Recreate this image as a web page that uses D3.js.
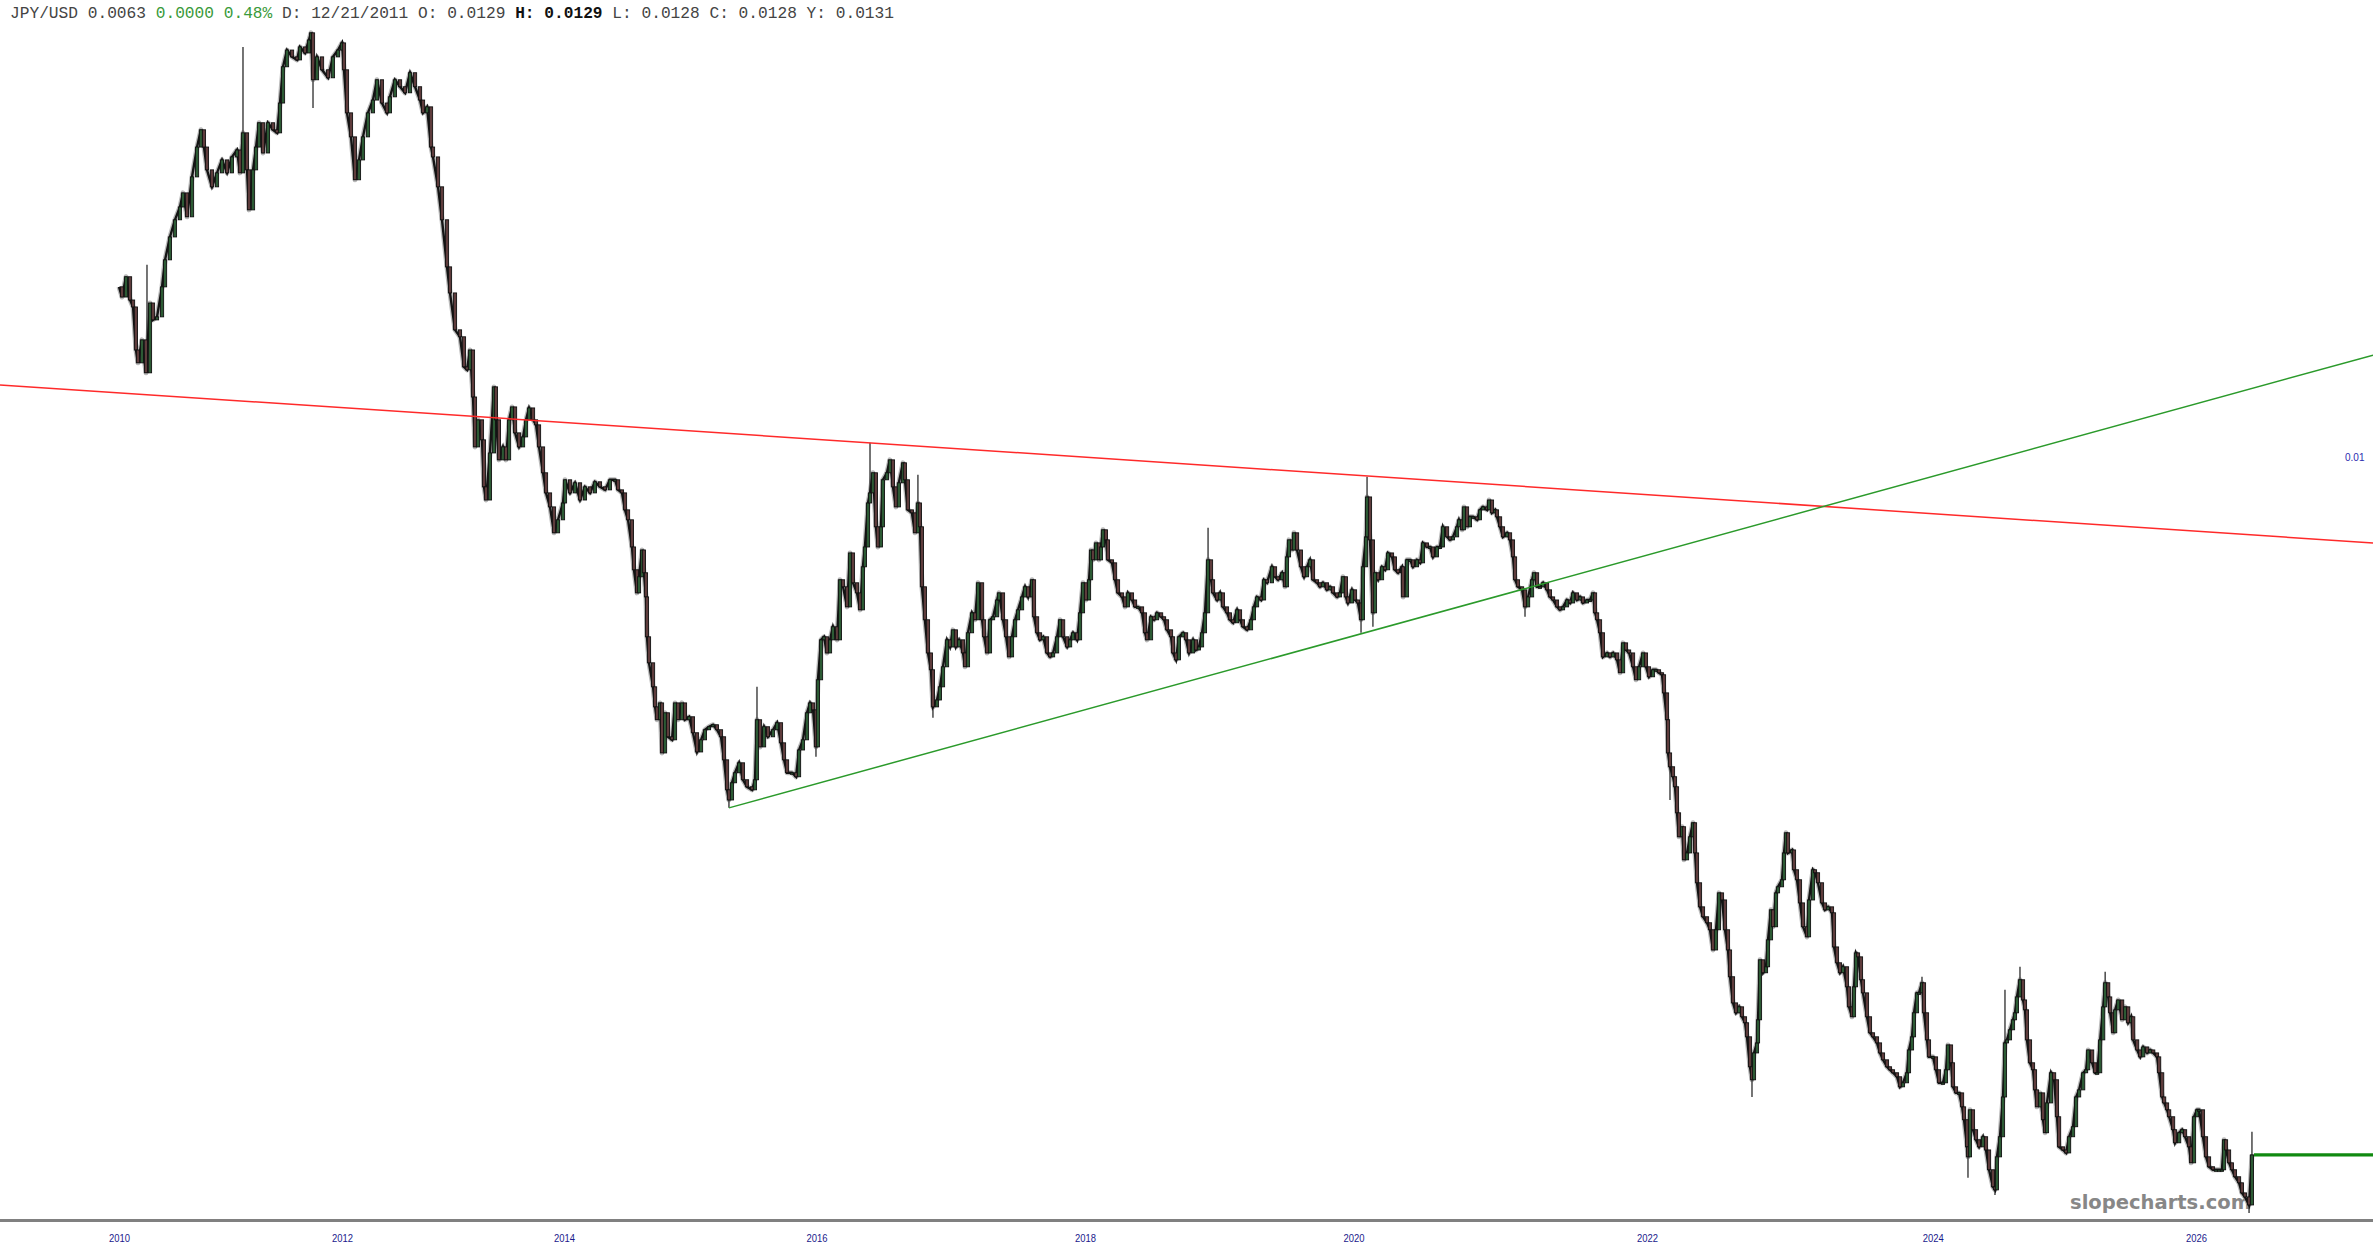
<!DOCTYPE html>
<html><head><meta charset="utf-8">
<script src="https://cdn.jsdelivr.net/npm/d3@7"></script>
<style>html,body{margin:0;padding:0;background:#fff;overflow:hidden}</style>
</head><body>
<svg id="chart" width="2373" height="1260"></svg>
<script>
// ---------- DATA ----------
// dates as decimal years, closes in JPY/USD
const dates = [
2010.000,2010.027,2010.063,2010.099,2010.126,2010.152,2010.170,2010.206,2010.242,2010.278,
2010.305,2010.341,2010.386,2010.413,2010.457,2010.502,2010.547,2010.574,2010.610,2010.655,
2010.700,2010.735,2010.762,2010.789,2010.834,2010.879,2010.924,2010.969,2011.013,2011.058,
2011.085,2011.112,2011.148,2011.166,2011.202,2011.229,2011.256,2011.292,2011.336,2011.381,
2011.417,2011.444,2011.471,2011.507,2011.552,2011.596,2011.623,2011.668,2011.704,2011.722,
2011.740,2011.776,2011.821,2011.875,2011.919,2011.964,2012.000,2012.018,2012.045,2012.081,
2012.117,2012.153,2012.189,2012.234,2012.279,2012.315,2012.360,2012.405,2012.432,2012.477,
2012.523,2012.568,2012.613,2012.658,2012.703,2012.730,2012.766,2012.802,2012.820,2012.865,
2012.901,2012.946,2012.973,2013.018,2013.063,2013.099,2013.126,2013.153,2013.180,2013.198,
2013.225,2013.261,2013.279,2013.297,2013.333,2013.369,2013.387,2013.414,2013.450,2013.477,
2013.505,2013.532,2013.559,2013.595,2013.631,2013.658,2013.685,2013.721,2013.748,2013.775,
2013.811,2013.838,2013.874,2013.910,2013.946,2013.991,2014.008,2014.048,2014.087,2014.127,
2014.166,2014.206,2014.245,2014.285,2014.325,2014.364,2014.404,2014.428,2014.459,2014.483,
2014.507,2014.538,2014.554,2014.578,2014.594,2014.618,2014.633,2014.649,2014.657,2014.673,
2014.705,2014.721,2014.736,2014.760,2014.776,2014.800,2014.823,2014.855,2014.879,2014.903,
2014.934,2014.958,2014.990,2015.021,2015.053,2015.085,2015.116,2015.148,2015.180,2015.211,
2015.243,2015.267,2015.291,2015.306,2015.330,2015.354,2015.386,2015.417,2015.449,2015.489,
2015.512,2015.528,2015.552,2015.584,2015.615,2015.655,2015.687,2015.718,2015.742,2015.766,
2015.805,2015.837,2015.861,2015.892,2015.924,2015.948,2015.972,2015.995,2016.010,2016.033,
2016.055,2016.077,2016.100,2016.122,2016.152,2016.174,2016.197,2016.227,2016.249,2016.271,
2016.301,2016.324,2016.345,2016.360,2016.383,2016.398,2016.420,2016.442,2016.457,2016.479,
2016.494,2016.524,2016.546,2016.569,2016.591,2016.613,2016.644,2016.658,2016.680,2016.710,
2016.733,2016.755,2016.770,2016.785,2016.807,2016.830,2016.852,2016.867,2016.897,2016.919,
2016.942,2016.972,2016.994,2017.016,2017.038,2017.061,2017.091,2017.106,2017.128,2017.158,
2017.180,2017.203,2017.233,2017.248,2017.270,2017.292,2017.315,2017.345,2017.359,2017.389,
2017.412,2017.434,2017.456,2017.479,2017.501,2017.531,2017.553,2017.576,2017.605,2017.620,
2017.643,2017.665,2017.688,2017.717,2017.740,2017.762,2017.792,2017.814,2017.837,2017.867,
2017.889,2017.911,2017.941,2017.963,2017.985,2018.007,2018.030,2018.045,2018.060,2018.082,
2018.104,2018.119,2018.134,2018.156,2018.171,2018.201,2018.224,2018.246,2018.276,2018.298,
2018.320,2018.350,2018.373,2018.395,2018.425,2018.447,2018.462,2018.492,2018.514,2018.537,
2018.567,2018.589,2018.611,2018.641,2018.656,2018.678,2018.700,2018.730,2018.753,2018.775,
2018.805,2018.827,2018.849,2018.872,2018.894,2018.917,2018.939,2018.954,2018.984,2019.006,
2019.028,2019.058,2019.080,2019.103,2019.133,2019.155,2019.177,2019.207,2019.237,2019.259,
2019.282,2019.311,2019.334,2019.356,2019.393,2019.416,2019.438,2019.468,2019.490,2019.505,
2019.520,2019.543,2019.557,2019.580,2019.609,2019.632,2019.654,2019.676,2019.699,2019.729,
2019.751,2019.773,2019.803,2019.825,2019.848,2019.878,2019.900,2019.922,2019.944,2019.959,
2019.989,2020.011,2020.031,2020.052,2020.065,2020.086,2020.093,2020.113,2020.133,2020.147,
2020.168,2020.195,2020.215,2020.236,2020.263,2020.283,2020.304,2020.331,2020.338,2020.365,
2020.386,2020.406,2020.433,2020.454,2020.474,2020.501,2020.522,2020.542,2020.569,2020.590,
2020.610,2020.638,2020.658,2020.678,2020.706,2020.719,2020.740,2020.753,2020.774,2020.794,
2020.815,2020.842,2020.862,2020.883,2020.910,2020.924,2020.944,2020.965,2020.978,2020.999,
2021.019,2021.046,2021.067,2021.087,2021.101,2021.121,2021.149,2021.169,2021.190,2021.217,
2021.230,2021.251,2021.271,2021.292,2021.319,2021.339,2021.360,2021.387,2021.407,2021.428,
2021.455,2021.475,2021.496,2021.523,2021.543,2021.564,2021.591,2021.612,2021.632,2021.646,
2021.660,2021.680,2021.700,2021.728,2021.748,2021.769,2021.796,2021.816,2021.837,2021.857,
2021.878,2021.905,2021.925,2021.946,2021.973,2021.993,2022.014,2022.042,2022.063,2022.084,
2022.105,2022.119,2022.140,2022.147,2022.161,2022.182,2022.196,2022.210,2022.224,2022.245,
2022.259,2022.280,2022.301,2022.322,2022.336,2022.350,2022.371,2022.392,2022.420,2022.441,
2022.462,2022.483,2022.504,2022.525,2022.546,2022.567,2022.581,2022.602,2022.623,2022.644,
2022.665,2022.686,2022.700,2022.721,2022.735,2022.749,2022.770,2022.777,2022.791,2022.812,
2022.833,2022.847,2022.868,2022.882,2022.903,2022.917,2022.945,2022.959,2022.973,2022.987,
2023.015,2023.029,2023.050,2023.071,2023.092,2023.120,2023.134,2023.162,2023.176,2023.197,
2023.225,2023.246,2023.267,2023.295,2023.309,2023.330,2023.351,2023.372,2023.400,2023.414,
2023.435,2023.449,2023.463,2023.477,2023.498,2023.512,2023.540,2023.561,2023.582,2023.610,
2023.631,2023.652,2023.680,2023.701,2023.722,2023.750,2023.771,2023.792,2023.820,2023.834,
2023.855,2023.869,2023.890,2023.904,2023.925,2023.939,2023.960,2023.974,2024.002,2024.025,
2024.048,2024.078,2024.101,2024.116,2024.139,2024.154,2024.177,2024.200,2024.223,2024.238,
2024.261,2024.268,2024.283,2024.306,2024.329,2024.352,2024.382,2024.405,2024.428,2024.458,
2024.473,2024.488,2024.511,2024.534,2024.549,2024.564,2024.587,2024.610,2024.625,2024.640,
2024.663,2024.686,2024.701,2024.716,2024.739,2024.762,2024.777,2024.792,2024.815,2024.838,
2024.853,2024.868,2024.899,2024.922,2024.944,2024.960,2024.990,2025.013,2025.036,2025.066,
2025.089,2025.112,2025.143,2025.165,2025.181,2025.211,2025.234,2025.249,2025.272,2025.295,
2025.310,2025.333,2025.348,2025.371,2025.386,2025.409,2025.439,2025.462,2025.485,2025.507,
2025.523,2025.553,2025.576,2025.599,2025.629,2025.652,2025.675,2025.704,2025.720,2025.743,
2025.758,2025.780,2025.796,2025.826,2025.841,2025.872,2025.894,2025.917,2025.947,2025.963,
2025.985,2026.008,2026.023,2026.053,2026.076,2026.099,2026.129,2026.152,2026.175,2026.197,
2026.213,2026.228,2026.251,2026.273,2026.296,2026.327,2026.349,2026.372,2026.403,2026.425
];
const closes = [
0.011192,0.011117,0.011267,0.011095,0.011044,0.010734,0.010643,0.010806,0.010573,0.011073,
0.010950,0.010972,0.011192,0.011394,0.011568,0.011700,0.011800,0.011910,0.011723,0.012037,
0.012277,0.012418,0.012277,0.012093,0.011958,0.012069,0.012173,0.012069,0.012197,0.012253,
0.012069,0.012393,0.012093,0.011777,0.012093,0.012277,0.012476,0.012229,0.012476,0.012418,
0.012393,0.012640,0.012947,0.013091,0.013032,0.013006,0.013118,0.013066,0.013179,0.013241,
0.012836,0.013032,0.012921,0.012853,0.013032,0.013091,0.013153,0.012921,0.012558,0.012360,
0.012014,0.012173,0.012360,0.012558,0.012665,0.012836,0.012640,0.012558,0.012692,0.012836,
0.012777,0.012726,0.012896,0.012777,0.012665,0.012558,0.012608,0.012277,0.012197,0.011958,
0.011700,0.011341,0.011147,0.010878,0.010828,0.010615,0.010594,0.010734,0.010405,0.010067,
0.010249,0.010114,0.0098044,0.0097194,0.010027,0.010475,0.010249,0.0099810,0.010067,0.0099810,
0.010249,0.010337,0.010161,0.010067,0.010134,0.010249,0.010330,0.010249,0.010215,0.010067,
0.0098960,0.0097652,0.0096751,0.0095105,0.0095928,0.0097004,0.0098502,0.0097652,0.0098306,0.0097194,
0.0098044,0.0097652,0.0098371,0.0098044,0.0097848,0.0098502,0.0098502,0.0097848,0.0097652,0.0096561,
0.0095928,0.0094219,0.0092807,0.0091399,0.0092379,0.0094031,0.0092623,0.0091155,0.0088780,0.0087264,
0.0085889,0.0084757,0.0084037,0.0084979,0.0082212,0.0084425,0.0083095,0.0082929,0.0084979,0.0084037,
0.0084979,0.0084037,0.0084203,0.0083317,0.0082266,0.0082929,0.0083483,0.0083649,0.0083760,0.0083483,
0.0083095,0.0081837,0.0080229,0.0079692,0.0080604,0.0081140,0.0081676,0.0080765,0.0080390,0.0080229,
0.0080765,0.0084037,0.0082541,0.0083649,0.0083095,0.0083483,0.0083871,0.0082763,0.0081837,0.0081140,
0.0081140,0.0080926,0.0082373,0.0082929,0.0084425,0.0084979,0.0084591,0.0082541,0.0086290,0.0088602,
0.0088780,0.0087837,0.0088602,0.0089372,0.0088602,0.0092195,0.0091767,0.0090556,0.0093847,0.0092011,
0.0091399,0.0090378,0.0092991,0.0094219,0.0097004,0.0097652,0.0098960,0.0095485,0.0094219,0.0095485,
0.0098502,0.0098960,0.0099810,0.0098044,0.0096751,0.0098306,0.0099614,0.0098502,0.0096561,0.0096371,
0.0095105,0.0097004,0.0095485,0.0091767,0.0089786,0.0087837,0.0086863,0.0084757,0.0085145,0.0085889,
0.0087035,0.0088602,0.0088188,0.0089190,0.0088188,0.0088602,0.0087837,0.0087035,0.0089016,0.0090200,
0.0089786,0.0092011,0.0089786,0.0088780,0.0087837,0.0089786,0.0089964,0.0090970,0.0091399,0.0089786,
0.0088780,0.0087608,0.0088780,0.0089786,0.0090378,0.0091155,0.0091767,0.0091155,0.0092195,0.0089964,
0.0089016,0.0088602,0.0088780,0.0087837,0.0087608,0.0087837,0.0088780,0.0089786,0.0088780,0.0088188,
0.0088602,0.0089016,0.0088602,0.0090200,0.0092011,0.0090970,0.0092195,0.0094031,0.0093419,0.0094472,
0.0093419,0.0094219,0.0095295,0.0094662,0.0093419,0.0093235,0.0092195,0.0091399,0.0091155,0.0090556,
0.0091399,0.0090970,0.0090556,0.0090556,0.0090200,0.0089016,0.0088602,0.0089964,0.0089786,0.0090200,
0.0089964,0.0089786,0.0089190,0.0088780,0.0087837,0.0087436,0.0088780,0.0089016,0.0088602,0.0087837,
0.0088602,0.0088009,0.0088188,0.0089016,0.0090200,0.0093419,0.0092195,0.0091399,0.0090970,0.0091399,
0.0090556,0.0090200,0.0089786,0.0089608,0.0090378,0.0089786,0.0089372,0.0089190,0.0089786,0.0090556,
0.0091155,0.0090970,0.0092195,0.0092011,0.0092991,0.0092379,0.0092195,0.0092623,0.0091767,0.0093603,
0.0094662,0.0094031,0.0095105,0.0094031,0.0092991,0.0092379,0.0092991,0.0093419,0.0092195,0.0092011,
0.0091767,0.0092011,0.0091583,0.0091767,0.0091399,0.0091155,0.0091399,0.0092379,0.0091155,0.0090792,
0.0091583,0.0090970,0.0090792,0.0089786,0.0092991,0.0094852,0.0097390,0.0094662,0.0090200,0.0092623,
0.0092195,0.0092991,0.0092807,0.0093847,0.0093603,0.0092807,0.0092623,0.0092991,0.0091155,0.0093419,
0.0093419,0.0092991,0.0093419,0.0093235,0.0094472,0.0094219,0.0094219,0.0093603,0.0094219,0.0094219,
0.0095485,0.0094852,0.0094662,0.0094852,0.0095485,0.0095928,0.0095295,0.0096751,0.0095485,0.0096118,
0.0096118,0.0095928,0.0096561,0.0096751,0.0096561,0.0097194,0.0096371,0.0096561,0.0096118,0.0095485,
0.0094852,0.0095105,0.0094662,0.0093603,0.0092195,0.0091767,0.0091583,0.0090556,0.0091155,0.0092195,
0.0092623,0.0091767,0.0091767,0.0092011,0.0091583,0.0091155,0.0090970,0.0090556,0.0090378,0.0090556,
0.0090970,0.0090792,0.0091399,0.0090970,0.0091155,0.0090792,0.0090970,0.0090970,0.0091399,0.0090200,
0.0089786,0.0089016,0.0087608,0.0087837,0.0087608,0.0087837,0.0087436,0.0086691,0.0088424,0.0088009,
0.0087837,0.0087035,0.0086290,0.0087035,0.0087837,0.0087035,0.0086462,0.0086863,0.0086863,0.0086691,
0.0086577,0.0085545,0.0084037,0.0082212,0.0081462,0.0080926,0.0080390,0.0079017,0.0077772,0.0078291,
0.0076596,0.0076947,0.0077772,0.0078498,0.0076947,0.0075441,0.0074249,0.0073763,0.0073471,0.0073131,
0.0072161,0.0073131,0.0074939,0.0074589,0.0073131,0.0072161,0.0070892,0.0069676,0.0069221,0.0069494,
0.0069039,0.0068765,0.0068129,0.0066791,0.0066219,0.0067407,0.0067856,0.0068902,0.0071691,0.0071080,
0.0071362,0.0072645,0.0074103,0.0073277,0.0074939,0.0075241,0.0075592,0.0076947,0.0077979,0.0076947,
0.0077098,0.0076094,0.0075592,0.0074443,0.0073277,0.0072791,0.0074589,0.0076094,0.0075943,0.0075441,
0.0074443,0.0074103,0.0074249,0.0073957,0.0072305,0.0071550,0.0071080,0.0071362,0.0070422,0.0069494,
0.0069039,0.0070422,0.0072020,0.0071832,0.0070751,0.0070140,0.0069039,0.0068311,0.0068129,0.0067856,
0.0067407,0.0067099,0.0066791,0.0066659,0.0066527,0.0066351,0.0065911,0.0066087,0.0066527,0.0067539,
0.0068129,0.0069221,0.0070140,0.0070140,0.0070610,0.0069221,0.0067992,0.0067231,0.0067231,0.0066659,
0.0066087,0.0066087,0.0066659,0.0067765,0.0066967,0.0065911,0.0065647,0.0065647,0.0065043,0.0064491,
0.0063344,0.0062926,0.0064916,0.0064066,0.0063641,0.0063344,0.0063769,0.0063214,0.0062390,0.0061690,
0.0061566,0.0062926,0.0063769,0.0065471,0.0067856,0.0067992,0.0068447,0.0068902,0.0069221,0.0069952,
0.0070751,0.0069812,0.0069357,0.0067992,0.0066967,0.0066659,0.0065779,0.0065043,0.0065647,0.0064491,
0.0063939,0.0065213,0.0066527,0.0066219,0.0064618,0.0063344,0.0063214,0.0063090,0.0063769,0.0064194,
0.0065471,0.0065779,0.0066527,0.0066659,0.0067539,0.0066967,0.0066527,0.0066527,0.0067992,0.0069494,
0.0070610,0.0069952,0.0069221,0.0068311,0.0069357,0.0069812,0.0068902,0.0069494,0.0068765,0.0069039,
0.0067992,0.0067539,0.0067231,0.0067674,0.0067407,0.0067539,0.0067407,0.0067231,0.0066527,0.0065471,
0.0065213,0.0064916,0.0064618,0.0064066,0.0063514,0.0063939,0.0064066,0.0063769,0.0063344,0.0062678,
0.0064618,0.0064916,0.0064916,0.0063769,0.0062926,0.0062514,0.0062390,0.0062390,0.0062390,0.0062390,
0.0063641,0.0063214,0.0062678,0.0062390,0.0062102,0.0061854,0.0061442,0.0061278,0.0060955,0.0063008
];
// single-day extreme wicks (date, high or low)
const spikeDates  = [2010.251,2011.112,2011.740,2015.306,2015.528,2015.995,2016.398,2016.755,2016.867,2018.917,2020.052,2020.093,2020.133,2021.169,2022.161,2022.735,2023.925,2024.268,2024.473,2024.549,2024.663,2025.310,2026.403,2026.425];
const spikeLevels = [0.011356,0.013118,0.012599,0.0079277,0.0085889,0.0081998,0.010094,0.0098829,0.0084148,0.0095422,0.0089016,0.0098698,0.0089372,0.0089964,0.0079692,0.0065471,0.0070892,0.0062060,0.0061360,0.0070281,0.0071362,0.0071127,0.0060634,0.0063981];
// trendline anchors
const redLineDates = [2016.398, 2020.093];
const redLineValues = [0.010094, 0.0098751];
const greenLineDates = [2015.306, 2020.052];
const greenLineValues = [0.0079277, 0.0088957];
// axis labels
const tickYears = [2010,2012,2014,2016,2018,2020,2022,2024,2026];
const priceTicks = [0.01];
const header = {symbol:"JPY/USD", last:"0.0063", chg:"0.0000", pct:"0.48%", date:"12/21/2011", o:"0.0129", h:"0.0129", l:"0.0128", c:"0.0128", yv:"0.0131"};

// ---------- LAYOUT ----------
const W = 2373, H = 1260, axisY = 1220;
// the time axis is bar-indexed: each two-year span gets its own width
const yearStops  = [2010,2012,2014,2016,2018,2020,2022,2024,2026,2028];
const yearPixels = [119,342,564,816.6,1085,1353.4,1647,1932.7,2196,2459.3];

const svg = d3.select("#chart");
const x = d3.scaleLinear().domain(yearStops).range(yearPixels);
const y = d3.scaleLog().domain([0.013532, 0.006035]).range([0, axisY]);

// watermark (under the price)
svg.append("text")
  .attr("x", 2070).attr("y", 1209)
  .attr("font-family", "DejaVu Sans, Verdana, sans-serif")
  .attr("font-weight", "bold").attr("font-size", 19)
  .attr("fill", "#878787")
  .attr("textLength", 181).attr("lengthAdjust", "spacingAndGlyphs")
  .text("slopecharts.com");

const series = dates.map((d, i) => ({t: d, v: closes[i]}));
const lineGen = d3.line().x(d => x(d.t)).y(d => y(d.v));

// grey halo (wick fringe) under the price
svg.append("path")
  .datum(series)
  .attr("fill", "none").attr("stroke", "#8c8c8c").attr("stroke-opacity", 0.6)
  .attr("stroke-width", 5).attr("stroke-linejoin", "round")
  .attr("d", lineGen);

// wicks
const bis = d3.bisector(d => d).center;
svg.append("g").selectAll("line")
  .data(spikeDates.map((t, i) => ({t, lv: spikeLevels[i], c: closes[bis(dates, t)]})))
  .join("line")
  .attr("x1", d => x(d.t)).attr("x2", d => x(d.t))
  .attr("y1", d => y(d.c)).attr("y2", d => y(d.lv))
  .attr("stroke", "#3a3a3a").attr("stroke-width", 1.4);

// price line
svg.append("path")
  .datum(series)
  .attr("fill", "none").attr("stroke", "#141414").attr("stroke-width", 2.4)
  .attr("stroke-linejoin", "miter")
  .attr("d", lineGen);

// candle bodies between consecutive closes
const bodies = series.slice(1).map((d, i) => ({t: d.t, o: series[i].v, c: d.v}));
svg.append("g").selectAll("rect")
  .data(bodies)
  .join("rect")
  .attr("x", d => x(d.t) - 1.6)
  .attr("width", 3.2)
  .attr("y", d => y(Math.max(d.o, d.c)))
  .attr("height", d => Math.max(1.5, Math.abs(y(d.o) - y(d.c))))
  .attr("fill", d => d.c >= d.o ? "#2c5a34" : "#5e3c3c")
  .attr("stroke", "#111").attr("stroke-width", 0.9);

// trendlines (anchored on data points, extended across the chart)
function extend(ds, vs, fromLeft) {
  const x1 = x(ds[0]), y1 = y(vs[0]), x2 = x(ds[1]), y2 = y(vs[1]);
  const k = (y2 - y1) / (x2 - x1);
  const xs = fromLeft ? 0 : x1;
  return [[xs, y1 + k * (xs - x1)], [W, y1 + k * (W - x1)]];
}
const red = extend(redLineDates, redLineValues, true);
svg.append("line")
  .attr("x1", red[0][0]).attr("y1", red[0][1]).attr("x2", red[1][0]).attr("y2", red[1][1])
  .attr("stroke", "#ff2a2a").attr("stroke-width", 1.5);
const grn = extend(greenLineDates, greenLineValues, false);
svg.append("line")
  .attr("x1", grn[0][0]).attr("y1", grn[0][1]).attr("x2", grn[1][0]).attr("y2", grn[1][1])
  .attr("stroke", "#2b9a2b").attr("stroke-width", 1.5);

// last price line
const last = series[series.length - 1];
svg.append("line")
  .attr("x1", x(last.t) + 2).attr("x2", W)
  .attr("y1", y(last.v)).attr("y2", y(last.v))
  .attr("stroke", "#108a10").attr("stroke-width", 3.2);

// bottom axis
svg.append("line").attr("x1", 0).attr("x2", W).attr("y1", axisY + 0.5).attr("y2", axisY + 0.5)
  .attr("stroke", "#808080").attr("stroke-width", 3);
const gx = svg.append("g").attr("transform", `translate(0,${axisY})`)
  .call(d3.axisBottom(x).tickValues(tickYears).tickFormat(d3.format("d")).tickSize(0).tickPadding(14));
gx.select(".domain").remove();
gx.selectAll("text")
  .attr("font-family", "Liberation Sans Narrow, Arial Narrow, Liberation Sans, sans-serif")
  .attr("font-size", 11).attr("fill", "#1a1a8c")
  .attr("textLength", 21).attr("lengthAdjust", "spacingAndGlyphs");

// right price label
const gy = svg.append("g").attr("transform", "translate(2345,0)")
  .call(d3.axisRight(y).tickValues(priceTicks).tickFormat(d3.format(".2f")).tickSize(0).tickPadding(0));
gy.select(".domain").remove();
gy.selectAll("text")
  .attr("font-family", "Liberation Sans, Arial, sans-serif")
  .attr("font-size", 10).attr("fill", "#2b2bb0");

// header
const ht = svg.append("text").attr("x", 10).attr("y", 18)
  .attr("font-family", "Liberation Mono, Courier New, monospace")
  .attr("font-size", 16.2).attr("fill", "#444").style("white-space", "pre");
ht.append("tspan").text(`${header.symbol} ${header.last} `);
ht.append("tspan").attr("fill", "#3a9a3a").text(`${header.chg} ${header.pct}`);
ht.append("tspan").text(` D: ${header.date} O: ${header.o} `);
ht.append("tspan").attr("font-weight", "bold").attr("fill", "#111").text(`H: ${header.h}`);
ht.append("tspan").text(` L: ${header.l} C: ${header.c} Y: ${header.yv}`);
</script>
</body></html>
